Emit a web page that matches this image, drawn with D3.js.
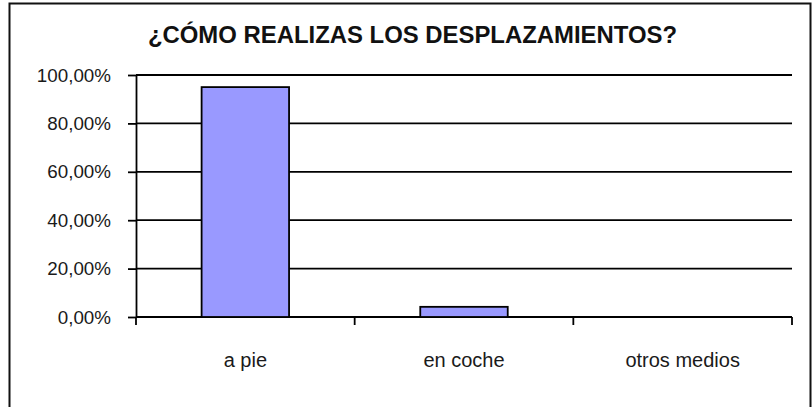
<!DOCTYPE html>
<html>

<head>
  <meta charset="utf8">
  <script src="https://d3js.org/d3.v7.min.js"></script>
  <style>
    body {
      margin: 0;
      background: #fff;
    }

    .grid line {
      stroke: #000;
      stroke-width: 1.8;
    }

    .axis path,
    .axis line {
      stroke: #000;
      stroke-width: 1.8;
    }

    .axis text {
      fill: #1a1a1a;
      font-family: "Liberation Sans", Arial, sans-serif;
    }

    .bar {
      fill: #9999ff;
      stroke: #000;
      stroke-width: 1.8;
    }
  </style>
</head>

<body>
  <svg id="chart" width="812" height="407"></svg>

  <script>
    var title = '¿CÓMO REALIZAS LOS DESPLAZAMIENTOS?';
    var categories = ['a pie', 'en coche', 'otros medios'];
    var values = [0.95, 0.042, 0];
    var yTicks = [0, 0.2, 0.4, 0.6, 0.8, 1];

    var chart = d3.select('#chart');
    var margin = { top: 75, right: 20, bottom: 90, left: 136 };
    var width = 792 - margin.left;
    var height = 317 - margin.top;

    // frame round the whole chart
    chart.append('rect')
      .attr('x', 9.5)
      .attr('y', 3.5)
      .attr('width', 801)
      .attr('height', 410)
      .attr('fill', 'none')
      .attr('stroke', '#111')
      .attr('stroke-width', 2);

    chart.append('text')
      .attr('x', 412.5)
      .attr('y', 42.5)
      .attr('text-anchor', 'middle')
      .style('font-family', '"Liberation Sans", Arial, sans-serif')
      .style('font-weight', 'bold')
      .style('font-size', '23.9px')
      .style('fill', '#111')
      .text(title);

    var x = d3.scaleBand()
      .domain(categories)
      .range([0, width])
      .paddingInner(0.6)
      .paddingOuter(0.3);

    var y = d3.scaleLinear()
      .domain([0, 1])
      .range([height, 0]);

    var group = chart.append('g')
      .attr('transform', 'translate(' + margin.left + ', ' + margin.top + ')');

    group.append('g')
      .attr('class', 'grid')
      .selectAll('line')
      .data(yTicks)
      .enter().append('line')
      .attr('x1', 0)
      .attr('x2', width)
      .attr('y1', (d) => y(d))
      .attr('y2', (d) => y(d));

    var fmt = (d) => d3.format('.2f')(d * 100).replace('.', ',') + '%';

    var yAxis = group.append('g')
      .attr('class', 'axis y-axis')
      .call(d3.axisLeft(y).tickValues(yTicks).tickFormat(fmt).tickSize(8).tickPadding(17).tickSizeOuter(0));
    yAxis.selectAll('text').style('font-size', '18.8px');

    // category ticks sit on the band edges, as in the original
    var edges = categories.map((c) => x(c) - x.step() * x.paddingInner() / 2);
    edges.push(width);

    var xAxis = group.append('g')
      .attr('class', 'axis x-axis')
      .attr('transform', 'translate(0, ' + height + ')');
    xAxis.append('path')
      .attr('d', 'M0,0H' + width);
    xAxis.selectAll('line')
      .data(edges)
      .enter().append('line')
      .attr('x1', (d) => d)
      .attr('x2', (d) => d)
      .attr('y1', 0)
      .attr('y2', 8);
    xAxis.selectAll('text')
      .data(categories)
      .enter().append('text')
      .attr('x', (d) => x(d) + x.bandwidth() / 2)
      .attr('y', 49.7)
      .attr('text-anchor', 'middle')
      .style('font-size', '20px')
      .text((d) => d);

    var bars = categories.map((c, i) => ({ category: c, value: values[i] }))
      .filter((d) => d.value > 0);

    group.selectAll('.bar')
      .data(bars)
      .enter().append('rect')
      .attr('class', 'bar')
      .attr('x', (d) => x(d.category))
      .attr('y', (d) => y(d.value))
      .attr('width', x.bandwidth())
      .attr('height', (d) => height - y(d.value));
  </script>
</body>

</html>
